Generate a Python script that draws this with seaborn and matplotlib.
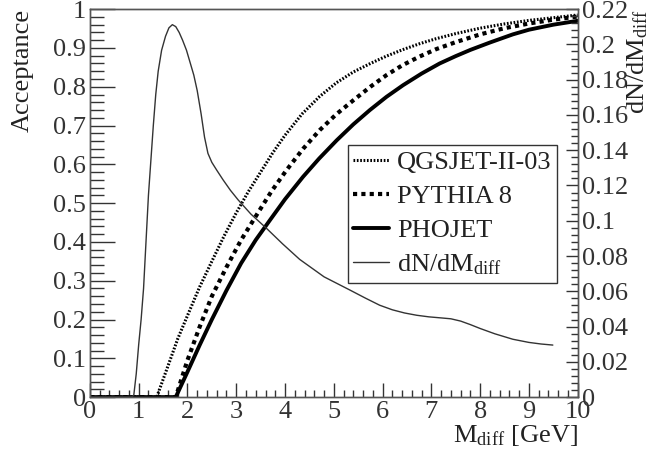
import numpy as np
import pandas as pd
import matplotlib
matplotlib.use("Agg")
import matplotlib.pyplot as plt
from matplotlib.ticker import MultipleLocator
from matplotlib.lines import Line2D
import seaborn as sns

# ---------------- data ----------------
qgs_x = [0, 1.37, 1.6, 1.8, 2.0, 2.25, 2.5, 2.75, 3.0, 3.25, 3.5, 3.75, 4.0, 4.35, 4.71,
         5.05, 5.4, 5.75, 6.08, 6.4, 6.76, 7.1, 7.5, 8.0, 8.5, 9.0, 9.5, 10.0]
qgs_y = [0, 0, 0.08, 0.15, 0.21, 0.284, 0.35, 0.415, 0.475, 0.53, 0.58, 0.63, 0.675, 0.73,
         0.775, 0.81, 0.838, 0.86, 0.879, 0.895, 0.911, 0.924, 0.937, 0.951, 0.962, 0.971,
         0.978, 0.985]

pyt_x = [0, 1.76, 2.0, 2.25, 2.5, 2.8, 3.1, 3.42, 3.72, 4.03, 4.37, 4.71, 5.05, 5.4, 5.75,
         6.08, 6.4, 6.76, 7.1, 7.5, 8.0, 8.5, 9.0, 9.5, 10.0]
pyt_y = [0, 0, 0.095, 0.181, 0.26, 0.335, 0.405, 0.47, 0.53, 0.585, 0.64, 0.688, 0.729,
         0.765, 0.8, 0.83, 0.855, 0.878, 0.897, 0.915, 0.935, 0.951, 0.963, 0.973, 0.981]

pho_x = [0, 1.76, 2.0, 2.25, 2.5, 2.8, 3.1, 3.4, 3.69, 4.0, 4.37, 4.7, 5.06, 5.4, 5.74,
         6.08, 6.42, 6.8, 7.17, 7.5, 7.8, 8.2, 8.67, 9.0, 9.5, 10.0]
pho_y = [0, 0, 0.065, 0.134, 0.2, 0.275, 0.345, 0.405, 0.456, 0.51, 0.568, 0.615, 0.662,
         0.703, 0.74, 0.774, 0.804, 0.834, 0.86, 0.879, 0.895, 0.914, 0.935, 0.947, 0.96, 0.97]

dn_x = [0, 0.85, 0.9, 0.95, 1.0, 1.05, 1.1, 1.15, 1.2, 1.25, 1.3, 1.35, 1.4, 1.47, 1.55,
        1.62, 1.69, 1.76, 1.83, 1.9, 1.98, 2.06, 2.13, 2.2, 2.28, 2.35, 2.42, 2.5, 2.6,
        2.73, 2.88, 3.04, 3.3, 3.62, 3.95, 4.3, 4.8, 5.33, 5.65, 5.94, 6.2, 6.45, 6.7,
        6.95, 7.2, 7.4, 7.6, 7.8, 8.0, 8.3, 8.67, 9.0, 9.25, 9.49]
dn_y = [0, 0, 0.0011, 0.0132, 0.0297, 0.044, 0.0616, 0.088, 0.1144, 0.1342, 0.154, 0.1716,
        0.1848, 0.1967, 0.2046, 0.2094, 0.2112, 0.2101, 0.2068, 0.2024, 0.1967, 0.1892,
        0.1826, 0.1738, 0.1606, 0.1474, 0.1382, 0.1331, 0.1287, 0.1232, 0.1173, 0.1118,
        0.1038, 0.0957, 0.0869, 0.0781, 0.0682, 0.0607, 0.0561, 0.0521, 0.0495, 0.0477,
        0.0464, 0.0455, 0.0449, 0.0444, 0.0431, 0.0411, 0.0389, 0.0359, 0.0328, 0.031,
        0.0301, 0.0295]

labels = ["QGSJET-II-03", "PYTHIA 8", "PHOJET", r"dN/dM$_{\mathrm{diff}}$"]

# ---------------- style ----------------
sns.set_style("ticks")
plt.rcParams["font.family"] = ["Liberation Serif", "DejaVu Serif"]
plt.rcParams["mathtext.fontset"] = "custom"
plt.rcParams["mathtext.rm"] = "Liberation Serif"
plt.rcParams["mathtext.it"] = "Liberation Serif:italic"
plt.rcParams["text.color"] = "#222222"
plt.rcParams["axes.labelcolor"] = "#222222"
plt.rcParams["xtick.color"] = "#333333"
plt.rcParams["ytick.color"] = "#333333"

FS = 19
fig = plt.figure(figsize=(6.61, 4.58), dpi=100)
ax = fig.add_axes([0.136, 0.133, 0.738, 0.847])
ax2 = ax.twinx()

QGS_LS = (0, (0.55, 0.55))
PYT_LS = (0, (1.0, 1.0))

sns.lineplot(x=dn_x, y=dn_y, ax=ax2, color="#333333", lw=1.0, sort=False, estimator=None)
sns.lineplot(x=qgs_x, y=qgs_y, ax=ax, color="black", lw=2.2, linestyle=QGS_LS, sort=False, estimator=None)
sns.lineplot(x=pyt_x, y=pyt_y, ax=ax, color="black", lw=3.0, linestyle=PYT_LS, sort=False, estimator=None)
sns.lineplot(x=pho_x, y=pho_y, ax=ax, color="black", lw=2.8, linestyle="-", sort=False, estimator=None)

ax.set_xlim(0, 10)
ax.set_ylim(0, 1)
ax2.set_ylim(0, 0.22)

ax.xaxis.set_major_locator(MultipleLocator(1))
ax.xaxis.set_minor_locator(MultipleLocator(0.2))
ax.yaxis.set_major_locator(MultipleLocator(0.1))
ax.yaxis.set_minor_locator(MultipleLocator(0.02))
ax2.yaxis.set_major_locator(MultipleLocator(0.02))
ax2.yaxis.set_minor_locator(MultipleLocator(0.004))

ax.tick_params(axis="both", which="both", direction="in", labelsize=FS, top=False, right=False)
ax.tick_params(axis="y", which="major", length=18, width=1, pad=3)
ax.tick_params(axis="y", which="minor", length=10, width=1)
ax.tick_params(axis="x", which="major", length=10, width=1, pad=3)
ax.tick_params(axis="x", which="minor", length=5, width=1)
ax2.tick_params(axis="y", which="both", direction="in", labelsize=FS, pad=3)
ax2.tick_params(axis="y", which="major", length=9, width=1)
ax2.tick_params(axis="y", which="minor", length=5, width=1)

ax.set_yticklabels([("%g" % v) for v in ax.get_yticks()])
ax2.set_yticklabels([("%g" % v) for v in ax2.get_yticks()])

for a in (ax, ax2):
    for s in a.spines.values():
        s.set_color("#555555")
        s.set_linewidth(1.0)

ax.set_xlabel(r"M$_{\mathrm{diff}}$ [GeV]", fontsize=FS, loc="right", labelpad=0)
ax.set_ylabel("Acceptance", fontsize=FS, loc="top")
ax.yaxis.set_label_coords(-0.116, 1.0)
ax2.set_ylabel(r"dN/dM$_{\mathrm{diff}}$", fontsize=FS, loc="top")
ax2.yaxis.set_label_coords(1.097, 1.0)

handles = [
    Line2D([], [], color="black", lw=2.2, linestyle=QGS_LS),
    Line2D([], [], color="black", lw=3.0, linestyle=PYT_LS),
    Line2D([], [], color="black", lw=2.8),
    Line2D([], [], color="#333333", lw=1.0),
]
leg = ax2.legend(handles, labels, loc="upper left", bbox_to_anchor=(0.529, 0.649),
                 borderaxespad=0, fontsize=FS, frameon=True, fancybox=False,
                 handlelength=1.35, handletextpad=0.3, labelspacing=0.4,
                 borderpad=0.2)
leg.get_frame().set_edgecolor("#333333")
leg.get_frame().set_linewidth(1.0)
leg.get_frame().set_alpha(1)

fig.savefig("out.png", dpi=100)
